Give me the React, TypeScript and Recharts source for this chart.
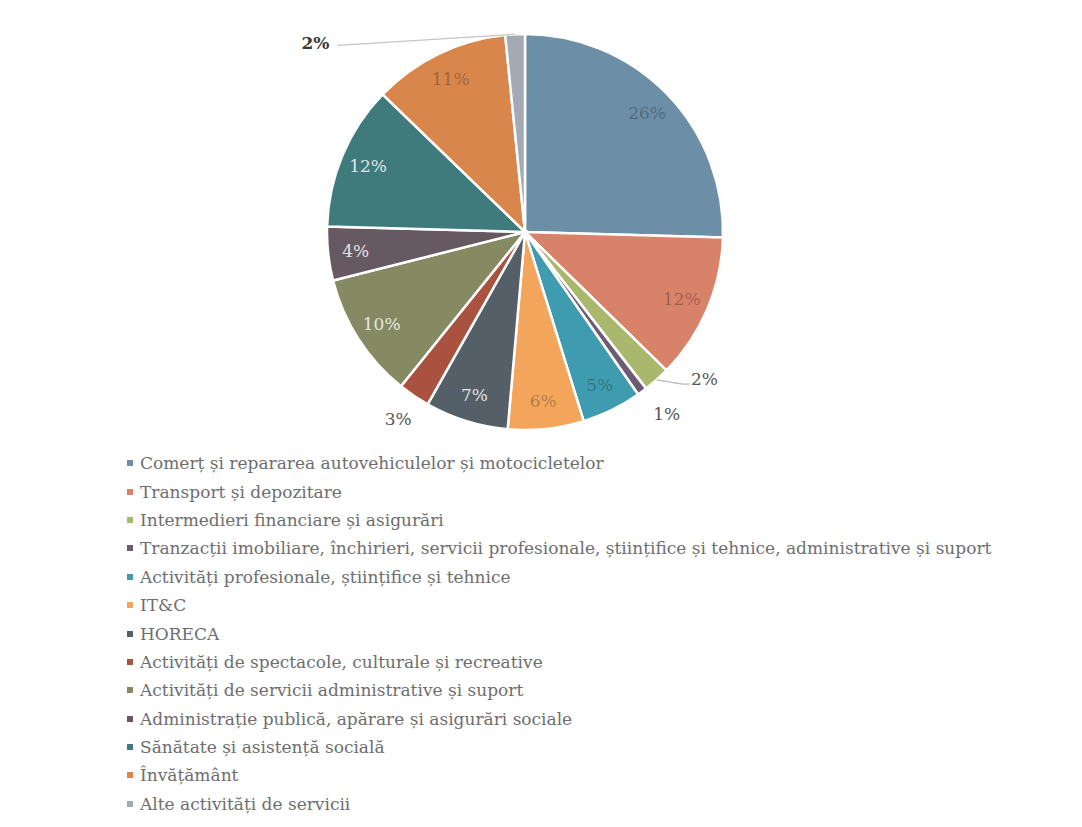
import { PieChart, Pie, Cell, Legend } from "recharts"

const SECTORS = [
  "Comerț și repararea autovehiculelor și motocicletelor",
  "Transport și depozitare",
  "Intermedieri financiare și asigurări",
  "Tranzacții imobiliare, închirieri, servicii profesionale, științifice și tehnice, administrative și suport",
  "Activități profesionale, științifice și tehnice",
  "IT&C",
  "HORECA",
  "Activități de spectacole, culturale și recreative",
  "Activități de servicii administrative și suport",
  "Administrație publică, apărare și asigurări sociale",
  "Sănătate și asistență socială",
  "Învățământ",
  "Alte activități de servicii",
]

const SHARES = [25.5, 11.9, 2.2, 0.8, 4.9, 6.2, 6.8, 2.6, 10.3, 4.4, 11.8, 11.2, 1.6]

const COLORS = [
  "#6c8ea6",
  "#d9826a",
  "#a9b86c",
  "#6c5b72",
  "#3f9bb0",
  "#f2a55b",
  "#545f68",
  "#a9523f",
  "#868a63",
  "#675961",
  "#3f7b7c",
  "#d8864c",
  "#a3aab5",
]

const data = SECTORS.map((name, i) => ({ name, value: SHARES[i] }))

const DARK = new Set([6, 8, 9, 10])
const RADIAN = Math.PI / 180
const FONT = "'DejaVu Serif', 'Liberation Serif', serif"

function renderLabel(props: any) {
  const { cx, cy, midAngle, outerRadius, index, value } = props
  const text = `${Math.round(value)}%`
  const at = (r: number, a: number) => ({
    x: cx + r * Math.cos(-a * RADIAN),
    y: cy + r * Math.sin(-a * RADIAN),
  })

  // small slices get their label outside
  if (value < 4) {
    if (index === 12) {
      const p0 = at(outerRadius, midAngle)
      const p1 = at(outerRadius + 84, 138)
      return (
        <g>
          <polyline
            points={`${p0.x},${p0.y} ${p1.x + 22},${p1.y + 2}`}
            stroke="#c4c4c4"
            strokeWidth={1.2}
            fill="none"
          />
          <text x={p1.x} y={p1.y} fill="#3a3a3a" fontSize={17} fontFamily={FONT} fontWeight="bold" textAnchor="middle" dominantBaseline="central">
            {text}
          </text>
        </g>
      )
    }
    if (index === 2) {
      const p0 = at(outerRadius, midAngle)
      const p1 = at(outerRadius + 22, -42)
      return (
        <g>
          <polyline
            points={`${p0.x},${p0.y} ${p1.x - 6},${p1.y + 5} ${p1.x + 1},${p1.y + 5}`}
            stroke="#b8b8b8"
            strokeWidth={1.2}
            fill="none"
          />
          <text x={p1.x + 16} y={p1.y} fill="#555" fontSize={17} fontFamily={FONT} textAnchor="middle" dominantBaseline="central">
            {text}
          </text>
        </g>
      )
    }
    const p = at(outerRadius + 28, midAngle)
    return (
      <text x={p.x + (index === 3 ? 8 : 0)} y={p.y} fill="#555" fontSize={17} fontFamily={FONT} textAnchor="middle" dominantBaseline="central">
        {text}
      </text>
    )
  }

  const p = at(outerRadius * 0.86, midAngle)
  return (
    <text
      x={p.x}
      y={p.y}
      fill={DARK.has(index) ? "#f4f4f4" : "#000"}
      fillOpacity={DARK.has(index) ? 0.9 : 0.28}
      fontSize={17}
      fontFamily={FONT}
      textAnchor="middle"
      dominantBaseline="central"
    >
      {text}
    </text>
  )
}

function LegendList() {
  return (
    <div style={{ fontFamily: FONT, fontSize: 17, color: "#6e6e6e" }}>
      {SECTORS.map((name, i) => (
        <div key={name} style={{ height: 28.4, display: "flex", alignItems: "center" }}>
          <span
            style={{
              width: 6,
              height: 6,
              background: COLORS[i],
              display: "inline-block",
              marginRight: 7,
            }}
          />
          <span>{name}</span>
        </div>
      ))}
    </div>
  )
}

export default function App() {
  return (
    <div style={{ position: "absolute", left: 0, top: 0, width: 1082, height: 827, background: "#fff" }}>
      <PieChart width={1082} height={827} margin={{ top: 0, right: 0, bottom: 0, left: 0 }}>
        <Pie
          data={data}
          dataKey="value"
          nameKey="name"
          cx={525}
          cy={232}
          outerRadius={198}
          startAngle={90}
          endAngle={-270}
          stroke="#fff"
          strokeWidth={2.5}
          label={renderLabel}
          labelLine={false}
          isAnimationActive={false}
        >
          {data.map((_, i) => (
            <Cell key={i} fill={COLORS[i]} />
          ))}
        </Pie>
        <Legend
          content={() => <LegendList />}
          wrapperStyle={{ position: "absolute", left: 127, top: 449, width: 950 }}
        />
      </PieChart>
    </div>
  )
}
